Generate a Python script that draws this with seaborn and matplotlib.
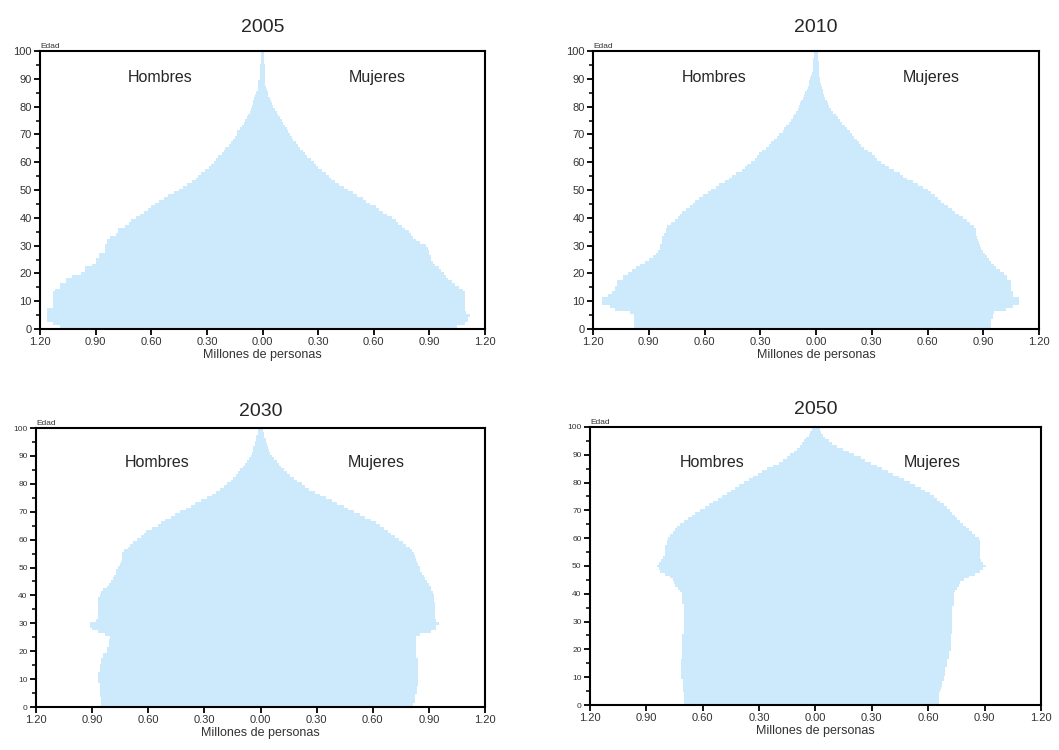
import numpy as np
import pandas as pd
import matplotlib
matplotlib.use("Agg")
import matplotlib.pyplot as plt
from matplotlib.ticker import FuncFormatter, MultipleLocator
import seaborn as sns

# Pirámides de población (millones de personas por edad simple, 0..100)
ages = list(range(0, 101))
years = ["2005", "2010", "2030", "2050"]

hombres_2005 = [1.02, 1.09, 1.13, 1.16, 1.16, 1.16, 1.16, 1.16, 1.13, 1.13, 1.13, 1.13, 1.13, 1.13, 1.12,
                1.09, 1.09, 1.06, 1.06, 1.03, 0.98, 0.96, 0.96, 0.92, 0.90, 0.90, 0.88, 0.88, 0.85, 0.85,
                0.85, 0.84, 0.84, 0.82, 0.79, 0.78, 0.78, 0.74, 0.72, 0.71, 0.68, 0.66, 0.64, 0.62, 0.60,
                0.58, 0.56, 0.53, 0.51, 0.48, 0.45, 0.43, 0.41, 0.38, 0.36, 0.35, 0.33, 0.31, 0.29, 0.28,
                0.26, 0.25, 0.24, 0.22, 0.21, 0.20, 0.18, 0.17, 0.16, 0.15, 0.14, 0.135, 0.124, 0.11, 0.10,
                0.094, 0.085, 0.077, 0.07, 0.063, 0.058, 0.052, 0.052, 0.045, 0.04, 0.034, 0.027, 0.027, 0.022, 0.022,
                0.016, 0.016, 0.016, 0.013, 0.013, 0.013, 0.009, 0.009, 0.009, 0.009, 0.009]
mujeres_2005 = [0.99, 1.05, 1.09, 1.11, 1.11, 1.12, 1.10, 1.09, 1.09, 1.09, 1.09, 1.09, 1.09, 1.09, 1.08,
                1.06, 1.04, 1.02, 1.00, 0.99, 0.98, 0.96, 0.95, 0.93, 0.92, 0.91, 0.91, 0.90, 0.90, 0.89,
                0.88, 0.85, 0.83, 0.81, 0.80, 0.79, 0.77, 0.75, 0.73, 0.72, 0.70, 0.67, 0.65, 0.63, 0.61,
                0.58, 0.56, 0.54, 0.51, 0.49, 0.46, 0.44, 0.41, 0.39, 0.37, 0.36, 0.34, 0.32, 0.30, 0.29,
                0.275, 0.26, 0.24, 0.23, 0.22, 0.20, 0.19, 0.18, 0.167, 0.158, 0.149, 0.14, 0.131, 0.122, 0.113,
                0.104, 0.095, 0.086, 0.077, 0.068, 0.059, 0.052, 0.045, 0.038, 0.032, 0.027, 0.023, 0.02, 0.016, 0.016,
                0.016, 0.013, 0.013, 0.013, 0.013, 0.013, 0.009, 0.009, 0.009, 0.009, 0.009]

hombres_2010 = [0.98, 0.98, 0.98, 0.98, 0.98, 0.98, 1.00, 1.08, 1.11, 1.15, 1.15, 1.15, 1.12, 1.10, 1.08,
                1.08, 1.07, 1.07, 1.04, 1.04, 1.01, 0.99, 0.97, 0.95, 0.92, 0.90, 0.88, 0.86, 0.85, 0.84,
                0.84, 0.83, 0.83, 0.83, 0.82, 0.81, 0.81, 0.80, 0.78, 0.76, 0.745, 0.73, 0.72, 0.70, 0.68,
                0.66, 0.65, 0.63, 0.61, 0.58, 0.565, 0.54, 0.52, 0.49, 0.47, 0.45, 0.43, 0.40, 0.385, 0.37,
                0.35, 0.33, 0.32, 0.305, 0.29, 0.27, 0.255, 0.24, 0.225, 0.21, 0.20, 0.18, 0.17, 0.16, 0.147,
                0.135, 0.126, 0.117, 0.108, 0.099, 0.093, 0.086, 0.079, 0.072, 0.063, 0.057, 0.05, 0.045, 0.04, 0.036,
                0.03, 0.027, 0.023, 0.018, 0.018, 0.014, 0.014, 0.014, 0.009, 0.009, 0.009]
mujeres_2010 = [0.93, 0.94, 0.94, 0.94, 0.95, 0.95, 0.96, 1.02, 1.06, 1.09, 1.09, 1.09, 1.06, 1.06, 1.05,
                1.05, 1.05, 1.05, 1.03, 1.03, 1.01, 0.99, 0.97, 0.955, 0.94, 0.93, 0.92, 0.91, 0.90, 0.89,
                0.88, 0.875, 0.87, 0.865, 0.86, 0.86, 0.86, 0.85, 0.83, 0.81, 0.79, 0.77, 0.75, 0.73, 0.71,
                0.69, 0.67, 0.655, 0.64, 0.62, 0.60, 0.575, 0.55, 0.52, 0.49, 0.47, 0.45, 0.42, 0.395, 0.37,
                0.35, 0.33, 0.315, 0.30, 0.28, 0.26, 0.24, 0.233, 0.22, 0.206, 0.194, 0.18, 0.165, 0.153, 0.14,
                0.13, 0.117, 0.108, 0.093, 0.081, 0.072, 0.063, 0.057, 0.05, 0.045, 0.04, 0.036, 0.03, 0.027, 0.022,
                0.022, 0.018, 0.018, 0.018, 0.014, 0.014, 0.014, 0.009, 0.009, 0.009, 0.009]

hombres_2030 = [0.84, 0.85, 0.85, 0.85, 0.86, 0.86, 0.86, 0.86, 0.86, 0.87, 0.87, 0.87, 0.87, 0.86, 0.86,
                0.86, 0.85, 0.85, 0.84, 0.84, 0.82, 0.82, 0.81, 0.81, 0.81, 0.805, 0.83, 0.87, 0.90, 0.91,
                0.91, 0.88, 0.87, 0.87, 0.87, 0.87, 0.87, 0.87, 0.87, 0.87, 0.86, 0.85, 0.84, 0.82, 0.81,
                0.80, 0.79, 0.785, 0.775, 0.77, 0.76, 0.75, 0.745, 0.74, 0.74, 0.74, 0.73, 0.71, 0.695, 0.68,
                0.66, 0.64, 0.625, 0.61, 0.58, 0.55, 0.53, 0.51, 0.48, 0.455, 0.43, 0.40, 0.37, 0.35, 0.32,
                0.285, 0.26, 0.24, 0.215, 0.196, 0.178, 0.16, 0.146, 0.132, 0.12, 0.107, 0.094, 0.082, 0.071, 0.062,
                0.053, 0.045, 0.039, 0.039, 0.032, 0.032, 0.023, 0.023, 0.014, 0.014, 0.014]
mujeres_2030 = [0.80, 0.815, 0.825, 0.825, 0.825, 0.835, 0.835, 0.835, 0.84, 0.84, 0.84, 0.84, 0.84, 0.84, 0.84,
                0.84, 0.84, 0.84, 0.83, 0.83, 0.83, 0.83, 0.83, 0.83, 0.83, 0.83, 0.855, 0.91, 0.94, 0.94,
                0.955, 0.94, 0.93, 0.93, 0.93, 0.93, 0.93, 0.93, 0.925, 0.925, 0.925, 0.92, 0.91, 0.91, 0.90,
                0.89, 0.88, 0.875, 0.865, 0.855, 0.85, 0.84, 0.835, 0.83, 0.825, 0.82, 0.81, 0.80, 0.78, 0.76,
                0.74, 0.72, 0.70, 0.68, 0.66, 0.64, 0.615, 0.59, 0.56, 0.53, 0.50, 0.47, 0.445, 0.41, 0.38,
                0.35, 0.32, 0.29, 0.26, 0.24, 0.22, 0.196, 0.178, 0.157, 0.139, 0.125, 0.11, 0.098, 0.086, 0.071,
                0.062, 0.053, 0.046, 0.039, 0.036, 0.029, 0.029, 0.021, 0.021, 0.014, 0.014]

hombres_2050 = [0.70, 0.70, 0.70, 0.70, 0.70, 0.705, 0.705, 0.705, 0.705, 0.705, 0.715, 0.715, 0.715, 0.715, 0.715,
                0.715, 0.715, 0.71, 0.71, 0.71, 0.71, 0.71, 0.71, 0.71, 0.71, 0.71, 0.70, 0.70, 0.70, 0.70,
                0.70, 0.70, 0.70, 0.70, 0.70, 0.70, 0.70, 0.71, 0.71, 0.71, 0.71, 0.72, 0.73, 0.745, 0.755,
                0.76, 0.775, 0.80, 0.825, 0.835, 0.845, 0.835, 0.82, 0.81, 0.80, 0.80, 0.80, 0.80, 0.79, 0.79,
                0.785, 0.775, 0.76, 0.75, 0.735, 0.72, 0.70, 0.68, 0.655, 0.64, 0.615, 0.59, 0.567, 0.545, 0.52,
                0.496, 0.473, 0.452, 0.43, 0.408, 0.38, 0.355, 0.33, 0.307, 0.284, 0.257, 0.225, 0.195, 0.172, 0.15,
                0.133, 0.115, 0.098, 0.083, 0.071, 0.059, 0.048, 0.035, 0.027, 0.018, 0.012]
mujeres_2050 = [0.655, 0.655, 0.655, 0.655, 0.655, 0.665, 0.67, 0.675, 0.675, 0.683, 0.683, 0.69, 0.69, 0.69, 0.70,
                0.70, 0.70, 0.71, 0.71, 0.71, 0.72, 0.72, 0.72, 0.72, 0.72, 0.72, 0.727, 0.727, 0.727, 0.727,
                0.727, 0.727, 0.727, 0.727, 0.727, 0.727, 0.735, 0.735, 0.735, 0.735, 0.735, 0.745, 0.753, 0.762, 0.77,
                0.79, 0.815, 0.85, 0.878, 0.89, 0.905, 0.89, 0.88, 0.878, 0.878, 0.878, 0.878, 0.878, 0.878, 0.878,
                0.87, 0.85, 0.833, 0.815, 0.80, 0.785, 0.77, 0.753, 0.74, 0.727, 0.715, 0.70, 0.683, 0.665, 0.647,
                0.63, 0.61, 0.585, 0.56, 0.53, 0.505, 0.473, 0.443, 0.413, 0.385, 0.355, 0.328, 0.296, 0.266, 0.24,
                0.207, 0.177, 0.147, 0.115, 0.089, 0.071, 0.053, 0.041, 0.03, 0.023, 0.018]

hombres = [hombres_2005, hombres_2010, hombres_2030, hombres_2050]
mujeres = [mujeres_2005, mujeres_2010, mujeres_2030, mujeres_2050]

sns.set_style("ticks")
plt.rcParams['font.family'] = ['Liberation Sans', 'DejaVu Sans']

bar_color = '#cdeafc'
text_grey = '#333333'
fig = plt.figure(figsize=(10.59, 7.5), dpi=100)

# posiciones de los cuatro paneles [left, bottom, width, height]
positions = [[0.0378, 0.5613, 0.4202, 0.3707],
             [0.5600, 0.5613, 0.4212, 0.3707],
             [0.0340, 0.0573, 0.4240, 0.3720],
             [0.5571, 0.0600, 0.4259, 0.3707]]
label_y = [90.5, 90.5, 87.5, 87.2]
title_pad = [14, 14, 9, 9]
ytick_size = [8, 8, 6, 6]

for i, year in enumerate(years):
    ax = fig.add_axes(positions[i])
    # hombres a la izquierda (valores negativos), mujeres a la derecha
    sns.barplot(x=[-v for v in hombres[i]], y=ages, orient="y", native_scale=True,
                width=1.0, color=bar_color, linewidth=0, saturation=1, errorbar=None, ax=ax)
    sns.barplot(x=mujeres[i], y=ages, orient="y", native_scale=True,
                width=1.0, color=bar_color, linewidth=0, saturation=1, errorbar=None, ax=ax)
    for p in ax.patches:
        p.set_clip_on(False)

    ax.set_xlim(-1.2, 1.2)
    ax.set_ylim(0, 100)
    ax.xaxis.set_major_locator(MultipleLocator(0.3))
    ax.xaxis.set_major_formatter(FuncFormatter(lambda v, pos: "%.2f" % abs(v)))
    ax.yaxis.set_major_locator(MultipleLocator(10))
    ax.yaxis.set_minor_locator(MultipleLocator(5))
    ax.tick_params(axis='both', which='major', direction='out', length=4, width=1.3,
                   colors='black', pad=2)
    ax.tick_params(axis='x', labelsize=8, labelcolor=text_grey)
    ax.tick_params(axis='y', labelsize=ytick_size[i], labelcolor=text_grey)
    ax.tick_params(axis='y', which='minor', direction='out', length=3, width=1.3)
    for spine in ax.spines.values():
        spine.set_visible(True)
        spine.set_linewidth(1.5)
        spine.set_color('black')
        spine.set_zorder(5)

    ax.set_xlabel("Millones de personas", fontsize=9, color=text_grey, labelpad=1)
    ax.set_ylabel("")
    ax.set_title(year, fontsize=14, pad=title_pad[i])
    ax.text(0.0, 1.005, "Edad", transform=ax.transAxes, fontsize=6, ha='left', va='bottom',
            color=text_grey)
    ax.text(-0.55, label_y[i], "Hombres", fontsize=11.5, ha='center', va='center')
    ax.text(0.62, label_y[i], "Mujeres", fontsize=11.5, ha='center', va='center')

plt.savefig("out.png", dpi=100)
